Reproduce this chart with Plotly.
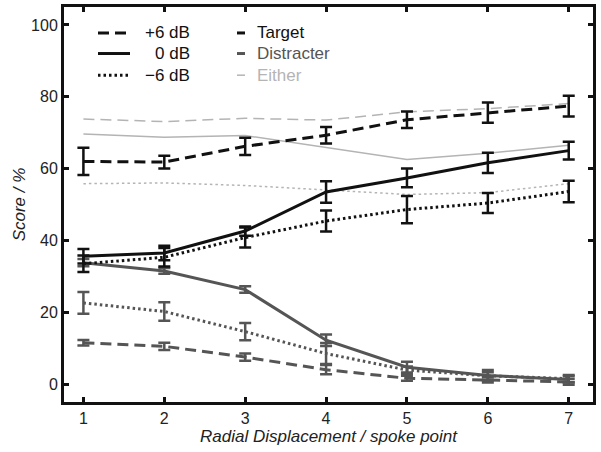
import plotly.graph_objects as go

x = [1, 2, 3, 4, 5, 6, 7]

target_p6 = [62.0, 61.8, 66.2, 69.3, 73.6, 75.6, 77.4]
target_p6_err = [3.8, 1.8, 2.4, 2.3, 2.3, 2.8, 2.9]
target_0 = [35.6, 36.5, 42.6, 53.5, 57.4, 61.6, 65.0]
target_0_err = [2.0, 2.0, 1.3, 3.0, 2.6, 2.8, 2.5]
target_m6 = [33.5, 35.3, 40.8, 45.4, 48.6, 50.4, 53.6]
target_m6_err = [2.3, 2.6, 2.8, 2.9, 3.8, 2.8, 3.0]

distr_p6 = [11.5, 10.5, 7.5, 4.0, 1.6, 1.2, 0.6]
distr_p6_err = [0.8, 1.0, 1.0, 1.3, 0.7, 0.8, 0.8]
distr_0 = [33.8, 31.5, 26.3, 12.2, 4.7, 2.4, 1.3]
distr_0_err = [1.0, 0.8, 0.9, 1.6, 1.5, 1.5, 0.9]
distr_m6 = [22.6, 20.2, 14.6, 8.5, 3.9, 2.3, 1.5]
distr_m6_err = [3.0, 2.6, 2.4, 2.9, 1.0, 1.0, 1.0]

either_p6 = [73.8, 73.1, 74.0, 73.5, 75.8, 76.7, 78.1]
either_0 = [69.6, 68.7, 69.2, 65.8, 62.5, 64.3, 66.5]
either_m6 = [55.8, 56.0, 55.3, 54.1, 52.8, 53.3, 55.8]

level_labels = ["+6 dB", "0 dB", "\u22126 dB"]
group_labels = ["Target", "Distracter", "Either"]

C_T = "#111111"
C_D = "#555555"
C_E = "#b4b4b4"
DASH = "11px,6px"
DOT = "2.5px,3px"
FONT = "Liberation Sans, Arial, sans-serif"

fig = go.Figure()

def add(y, err, color, dash, width):
    kw = {}
    if err is not None:
        kw["error_y"] = dict(type="data", array=err, visible=True, color=color,
                             thickness=2.5, width=6)
    fig.add_trace(go.Scatter(x=x, y=y, mode="lines",
                             line=dict(color=color, width=width, dash=dash),
                             showlegend=False, hoverinfo="skip", **kw))

# Either (no error bars)
add(either_p6, None, C_E, DASH, 1.5)
add(either_0, None, C_E, "solid", 1.5)
add(either_m6, None, C_E, DOT, 1.5)
# Distracter
add(distr_p6, distr_p6_err, C_D, DASH, 3)
add(distr_0, distr_0_err, C_D, "solid", 3)
add(distr_m6, distr_m6_err, C_D, DOT, 3)
# Target
add(target_p6, target_p6_err, C_T, DASH, 3)
add(target_0, target_0_err, C_T, "solid", 3)
add(target_m6, target_m6_err, C_T, DOT, 3)

# Custom legend (paper coordinates)
L, R, T, B = 64, 593, 6.7, 402.3
def px(v):
    return (v - L) / (R - L)
def py(v):
    return (B - v) / (B - T)

rows = [32.7, 53.3, 75.0]
styles = [DASH, "solid", DOT]
shapes = []
annotations = []
for i, r in enumerate(rows):
    shapes.append(dict(type="line", xref="paper", yref="paper",
                       x0=px(98), x1=px(130), y0=py(r), y1=py(r),
                       line=dict(color=C_T, width=3, dash=styles[i])))
    annotations.append(dict(xref="paper", yref="paper", x=px(192), y=py(r),
                            text=level_labels[i], showarrow=False,
                            xanchor="right", yanchor="middle",
                            font=dict(size=17, color="#111111", family=FONT)))
gcols = [C_T, C_D, C_E]
gwid = [3, 3, 1.5]
gtxt = ["#111111", "#555555", "#b4b4b4"]
for i, r in enumerate(rows):
    shapes.append(dict(type="line", xref="paper", yref="paper",
                       x0=px(237), x1=px(245), y0=py(r), y1=py(r),
                       line=dict(color=gcols[i], width=gwid[i])))
    annotations.append(dict(xref="paper", yref="paper", x=px(255), y=py(r),
                            text=group_labels[i], showarrow=False,
                            xanchor="left", yanchor="middle",
                            font=dict(size=17, color=gtxt[i], family=FONT)))

axis_common = dict(showgrid=False, zeroline=False, showline=True, linecolor="#111111",
                   linewidth=3, mirror="ticks", ticks="inside", ticklen=5,
                   tickwidth=2.5, tickcolor="#111111", automargin=False,
                   tickfont=dict(size=16, color="#222222", family=FONT))

fig.update_layout(
    width=601, height=452,
    margin=dict(l=64, r=8, t=7, b=50),
    paper_bgcolor="white", plot_bgcolor="white",
    font=dict(family=FONT),
    shapes=shapes, annotations=annotations,
    xaxis=dict(range=[0.76, 7.3], tickvals=x,
               title=dict(text="Radial Displacement / spoke point", standoff=2,
                          font=dict(size=17, color="#222222", family=FONT, style="italic")),
               **axis_common),
    yaxis=dict(range=[-5, 105], tickvals=[0, 20, 40, 60, 80, 100],
               title=dict(text="Score / %", standoff=2,
                          font=dict(size=17, color="#222222", family=FONT, style="italic")),
               **axis_common),
)

fig.write_html("out.html", config={"displayModeBar": False},
               post_script="document.body.style.margin='0';document.body.style.overflow='hidden';")
